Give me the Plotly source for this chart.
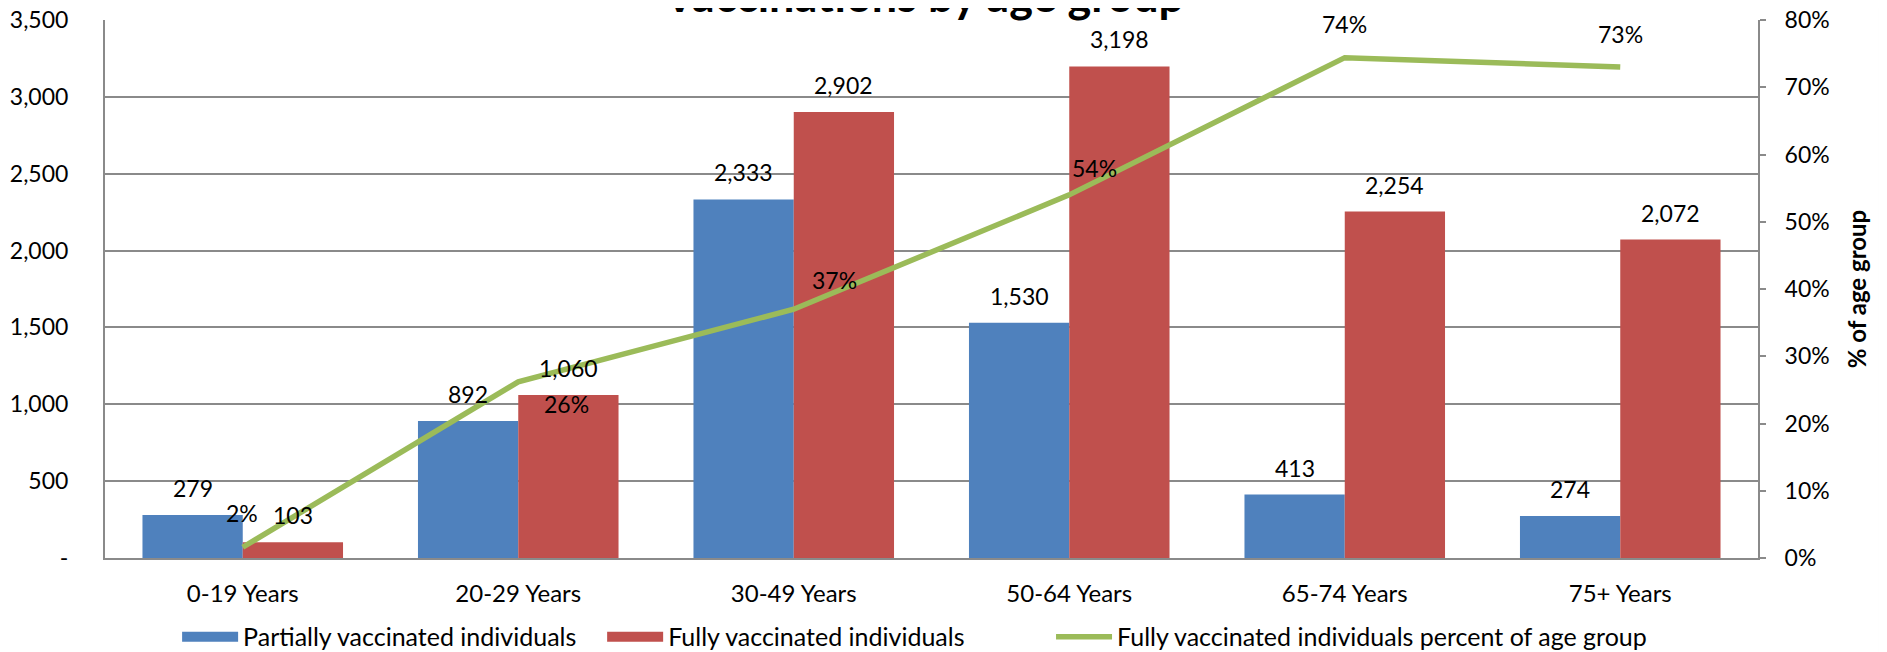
import plotly.graph_objects as go

# ---- data ----
age_groups = ["0-19 Years", "20-29 Years", "30-49 Years", "50-64 Years", "65-74 Years", "75+ Years"]
partially_vaccinated = [279, 892, 2333, 1530, 413, 274]
fully_vaccinated = [103, 1060, 2902, 3198, 2254, 2072]
fully_pct_of_group = [0.016, 0.262, 0.370, 0.540, 0.744, 0.730]
left_tick_values = [0, 500, 1000, 1500, 2000, 2500, 3000, 3500]
left_tick_labels = ["-", "500", "1,000", "1,500", "2,000", "2,500", "3,000", "3,500"]
series_names = ["Partially vaccinated individuals", "Fully vaccinated individuals",
                "Fully vaccinated individuals percent of age group"]

# ---- style ----
BLUE = "#4F81BD"
RED = "#C0504D"
GREEN = "#9BBB59"
GRID = "#8A8A8A"
FONT = "Lato"
FS_NUM = 23
FS_TXT = 24
BAR_SHIFT = 50          # px, half of a bar width
BAR_LABEL_UP = 27       # px above bar top (label centre)
# per-label pixel offsets (dx, dy) for percentage labels, as placed in the original
PCT_LABEL_OFFSETS = [(-1, 34), (48, -22), (41, 29), (25, 27), (0, 34), (0, 33)]
LEGEND_ITEM_W = 56

fig = go.Figure()
fig.add_trace(go.Bar(x=age_groups, y=partially_vaccinated, name=series_names[0],
                     marker=dict(color=BLUE, line=dict(width=0)),
                     legendgroup="partial", showlegend=False))
fig.add_trace(go.Bar(x=age_groups, y=fully_vaccinated, name=series_names[1],
                     marker=dict(color=RED, line=dict(width=0)),
                     legendgroup="full", showlegend=False))
fig.add_trace(go.Scatter(x=age_groups, y=fully_pct_of_group, yaxis="y2", mode="lines",
                         name=series_names[2], line=dict(color=GREEN, width=5.5),
                         legend="legend3"))
# legend keys drawn as wide colour swatches (as in the original chart)
fig.add_trace(go.Scatter(x=[None], y=[None], mode="lines", name=series_names[0],
                         line=dict(color=BLUE, width=15), legendgroup="partial",
                         legend="legend", hoverinfo="skip"))
fig.add_trace(go.Scatter(x=[None], y=[None], mode="lines", name=series_names[1],
                         line=dict(color=RED, width=15), legendgroup="full",
                         legend="legend2", hoverinfo="skip"))

annotations = []
for cat, v in zip(age_groups, partially_vaccinated):
    annotations.append(dict(x=cat, y=v, xref="x", yref="y", text=f"{v:,}", showarrow=False,
                            xshift=-BAR_SHIFT, yshift=BAR_LABEL_UP, yanchor="middle",
                            font=dict(family=FONT, size=FS_NUM, color="black")))
for cat, v in zip(age_groups, fully_vaccinated):
    annotations.append(dict(x=cat, y=v, xref="x", yref="y", text=f"{v:,}", showarrow=False,
                            xshift=BAR_SHIFT, yshift=BAR_LABEL_UP, yanchor="middle",
                            font=dict(family=FONT, size=FS_NUM, color="black")))
for cat, p, (dx, dy) in zip(age_groups, fully_pct_of_group, PCT_LABEL_OFFSETS):
    annotations.append(dict(x=cat, y=p, xref="x", yref="y2", text=f"{round(p*100)}%", showarrow=False,
                            xshift=dx, yshift=dy, yanchor="middle",
                            font=dict(family=FONT, size=FS_NUM, color="black")))
annotations.append(dict(x=0.5, y=1, xref="paper", yref="paper", text="<b>Vaccinations by age group</b>",
                        showarrow=False, yanchor="bottom", yshift=-4, xshift=-8,
                        font=dict(family=FONT, size=45, color="black")))

legend_common = dict(orientation="h", xref="container", yref="container", xanchor="left",
                     yanchor="middle", y=0.0233, bgcolor="rgba(0,0,0,0)", borderwidth=0,
                     itemwidth=LEGEND_ITEM_W,
                     font=dict(family=FONT, size=25, color="black"))

fig.update_layout(
    width=1879, height=644,
    margin=dict(l=97, r=129, t=12, b=94, autoexpand=False),
    paper_bgcolor="white", plot_bgcolor="white",
    barmode="group", bargap=0.272, bargroupgap=0,
    font=dict(family=FONT, size=FS_TXT, color="black"),
    showlegend=True,
    legend=dict(x=0.0900, **legend_common),
    legend2=dict(x=0.3162, **legend_common),
    legend3=dict(x=0.5551, **legend_common),
    xaxis=dict(showgrid=False, showline=True, linecolor=GRID, linewidth=2, automargin=False,
               ticks="", ticklabelstandoff=13, tickfont=dict(family=FONT, size=FS_TXT)),
    yaxis=dict(range=[0, 3500], tickvals=left_tick_values, ticktext=left_tick_labels,
               showgrid=True, gridcolor=GRID, gridwidth=2, zeroline=False, automargin=False,
               showline=True, linecolor=GRID, linewidth=2, ticks="", ticklabelstandoff=30,
               ticklabeloverflow="allow", tickfont=dict(family=FONT, size=FS_NUM)),
    yaxis2=dict(range=[0, 0.8], dtick=0.1, tickformat=".0%", overlaying="y", side="right",
                showgrid=False, zeroline=False, showline=True, linecolor=GRID, linewidth=2,
                automargin=False, ticklabeloverflow="allow",
                ticks="outside", ticklen=6, tickcolor=GRID, tickwidth=2, ticklabelstandoff=14,
                tickfont=dict(family=FONT, size=FS_NUM),
                title=dict(text="<b>% of age group</b>", font=dict(family=FONT, size=24), standoff=20)),
    annotations=annotations,
    shapes=[dict(type="line", xref="paper", yref="paper", x0=1.0738, x1=1.0738, y0=-0.3, y1=1.1,
                 line=dict(color=GRID, width=2))],
)

fig.write_html("out.html")
